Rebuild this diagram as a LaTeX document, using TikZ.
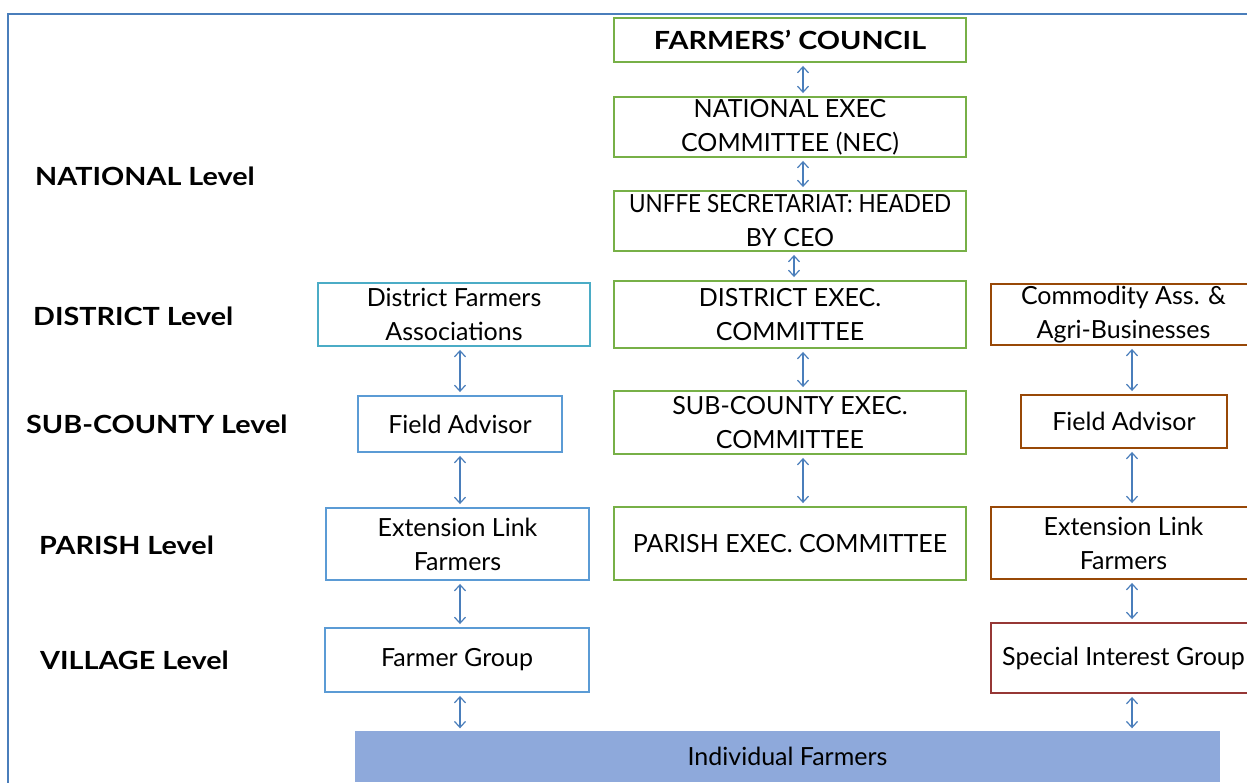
\documentclass[tikz,border=0pt]{standalone}
\usepackage{fontspec}
\setmainfont{Lato}
\usetikzlibrary{arrows.meta}
\definecolor{frameblue}{RGB}{74,126,187}
\definecolor{boxgreen}{RGB}{119,176,71}
\definecolor{boxcyan}{RGB}{75,172,198}
\definecolor{boxblue}{RGB}{91,155,213}
\definecolor{boxbrown}{RGB}{152,72,7}
\definecolor{boxred}{RGB}{150,55,53}
\definecolor{barfill}{RGB}{142,169,219}
\definecolor{arrblue}{RGB}{74,126,187}
\newcommand{\wideb}[1]{\scalebox{1.15}[1]{#1}}
\begin{document}
\begin{tikzpicture}[x=1pt,y=-1pt,
  box/.style={draw, line width=2.9pt, fill=white, align=center, inner sep=0pt,
    font=\fontsize{25}{34}\selectfont},
  gbox/.style={box, draw=boxgreen, minimum width=352pt},
  lvl/.style={anchor=west, inner sep=0pt, font=\fontsize{25}{30}\selectfont\bfseries},
  arr/.style={draw=arrblue, line width=1.2pt, {Straight Barb[length=6pt,width=11pt]}-{Straight Barb[length=6pt,width=11pt]}, shorten <=2.5pt, shorten >=2.5pt}
]
\useasboundingbox (0,0) rectangle (1247,782);
\clip (0,0) rectangle (1247,782);
\fill[white] (0,0) rectangle (1247,782);
% frame
\draw[frameblue, line width=1.6pt] (8,800) -- (8,14) -- (1260,14);

% central column
\node[gbox, minimum height=44pt, font=\fontsize{25}{34}\selectfont\bfseries] (fc) at (790,40) {\wideb{FARMERS’ COUNCIL}};
\node[gbox, minimum height=60pt] (nec) at (790,127) {NATIONAL EXEC\\COMMITTEE (NEC)};
\node[gbox, minimum height=60pt] (sec) at (790,221) {\scalebox{0.9}[1]{UNFFE SECRETARIAT: HEADED}\\BY CEO};
\node[gbox, minimum height=67pt] (dec) at (790,314.5) {DISTRICT EXEC.\\COMMITTEE};
\node[gbox, minimum height=63pt] (scec) at (790,422.5) {SUB-COUNTY EXEC.\\COMMITTEE};
\node[gbox, minimum height=73pt] (pec) at (790,543.5) {PARISH EXEC. COMMITTEE};

% left column
\node[box, draw=boxcyan, minimum width=272pt, minimum height=63pt] (dfa) at (454,314.5) {District Farmers\\Associations};
\node[box, draw=boxblue, minimum width=204pt, minimum height=56pt] (fal) at (460,424) {Field Advisor};
\node[box, draw=boxblue, minimum width=263pt, minimum height=72pt] (elfl) at (457.5,544) {Extension Link\\Farmers};
\node[box, draw=boxblue, minimum width=264pt, minimum height=64pt] (fg) at (457,660) {Farmer Group};

% right column
\node[box, draw=boxbrown, minimum width=265pt, minimum height=61pt] (com) at (1123.5,314.5) {Commodity Ass. \&\\Agri-Businesses};
\node[box, draw=boxbrown, minimum width=206pt, minimum height=53pt] (far) at (1124,421.5) {Field Advisor};
\node[box, draw=boxbrown, minimum width=265pt, minimum height=72pt] (elfr) at (1123.5,543) {Extension Link\\Farmers};
\node[box, draw=boxred, minimum width=265pt, minimum height=70pt] (sig) at (1123.5,658) {Special Interest Group};

% bottom bar
\node[fill=barfill, draw=none, minimum width=865pt, minimum height=51pt, inner sep=0pt,
  font=\fontsize{25}{30}\selectfont] (indiv) at (787.5,756.5) {Individual Farmers};

% level labels
\node[lvl] (lnat) at (35,176) {\wideb{NATIONAL Level}};
\node[lvl] (ldis) at (33,316) {\wideb{DISTRICT Level}};
\node[lvl] (lsub) at (26,424) {\wideb{SUB-COUNTY Level}};
\node[lvl] (lpar) at (39,545) {\wideb{PARISH Level}};
\node[lvl] (lvil) at (40,660) {\wideb{VILLAGE Level}};

% connectors
\draw[arr] ([xshift=13pt]fc.south) -- ([xshift=13pt]nec.north);
\draw[arr] ([xshift=13pt]nec.south) -- ([xshift=13pt]sec.north);
\draw[arr] ([xshift=4pt]sec.south) -- ([xshift=4pt]dec.north);
\draw[arr] ([xshift=13pt]dec.south) -- ([xshift=13pt]scec.north);
\draw[arr] ([xshift=13pt]scec.south) -- ([xshift=13pt]pec.north);

\draw[arr] ([xshift=6pt]dfa.south) -- (fal.north);
\draw[arr] (fal.south) -- ([xshift=2.5pt]elfl.north);
\draw[arr] ([xshift=2.5pt]elfl.south) -- ([xshift=3pt]fg.north);
\draw[arr] ([xshift=3pt]fg.south) -- ([xshift=3pt]fg.south |- indiv.north);

\draw[arr] ([xshift=8.5pt]com.south) -- ([xshift=8pt]far.north);
\draw[arr] ([xshift=8pt]far.south) -- ([xshift=8.5pt]elfr.north);
\draw[arr] ([xshift=8.5pt]elfr.south) -- ([xshift=8.5pt]sig.north);
\draw[arr] ([xshift=8.5pt]sig.south) -- ([xshift=8.5pt]sig.south |- indiv.north);
\end{tikzpicture}
\end{document}
